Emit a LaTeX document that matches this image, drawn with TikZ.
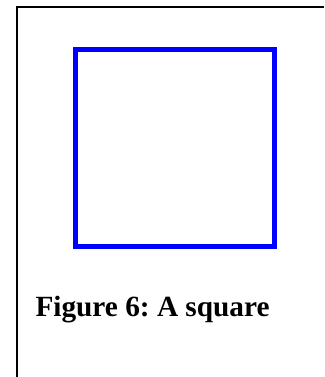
\documentclass[tikz,border=0pt]{standalone}
\usepackage{fontspec}
\setmainfont{Liberation Serif}
\frenchspacing
\begin{document}
\begin{tikzpicture}[x=1pt,y=1pt,
  frameline/.style={draw=black,line width=2pt},
  sq/.style={draw=blue,line width=5pt,minimum width=198.8pt,minimum height=197.5pt,inner sep=0pt,outer sep=0pt},
  captiontext/.style={inner sep=0pt,outer sep=0pt,anchor=base west,font=\fontsize{29.3}{34}\selectfont\bfseries}]
\useasboundingbox (0,0) rectangle (324,377);
\coordinate (bl) at (16.7,0);
\coordinate (tl) at (16.7,370.3);
\coordinate (tr) at (324,370.3);
\draw[frameline] (bl) -- (tl) -- (tr);
\node[sq] (square) at (174.6,228.75) {};
\node[captiontext] (caption) at (35.5,60.3) {Figure 6: A square};
\end{tikzpicture}
\end{document}
